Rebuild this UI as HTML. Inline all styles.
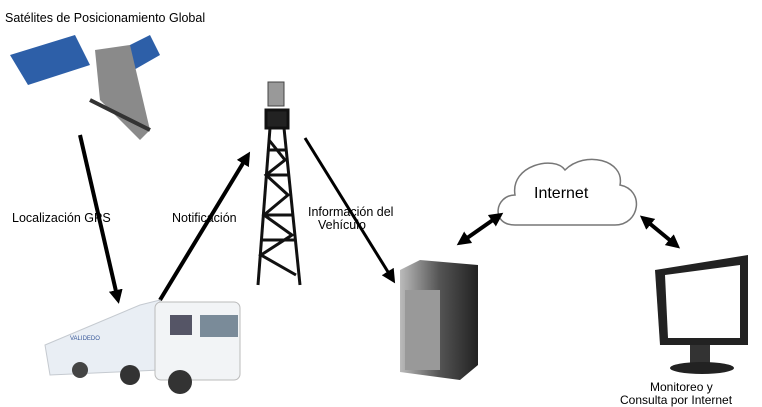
<!DOCTYPE html>
<html><head><meta charset="utf-8"><style>
body{margin:0;background:#fff;}
svg{display:block;font-family:"Liberation Sans",sans-serif;}
</style></head><body>
<svg width="762" height="407" viewBox="0 0 762 407">
<defs>
<marker id="a" markerWidth="8" markerHeight="8" refX="5" refY="4" orient="auto" markerUnits="userSpaceOnUse" viewBox="0 0 8 8"><path d="M0,0 L8,4 L0,8 z" fill="#000"/></marker>
<marker id="b" markerWidth="14" markerHeight="14" refX="10" refY="7" orient="auto" markerUnits="userSpaceOnUse" viewBox="0 0 14 14"><path d="M0,0 L14,7 L0,14 z" fill="#000"/></marker>
<marker id="c" markerWidth="14" markerHeight="14" refX="4" refY="7" orient="auto" markerUnits="userSpaceOnUse" viewBox="0 0 14 14"><path d="M14,0 L0,7 L14,14 z" fill="#000"/></marker>
<linearGradient id="sv" x1="0" x2="1"><stop offset="0" stop-color="#bbb"/><stop offset="0.5" stop-color="#555"/><stop offset="1" stop-color="#222"/></linearGradient>
</defs>
<text x="5" y="22" font-size="12.5">Satélites de Posicionamiento Global</text>
<!-- satellite -->
<polygon points="10,55 75,35 90,65 28,85" fill="#2d5fa8"/>
<polygon points="110,55 150,35 160,55 125,75" fill="#2d5fa8"/>
<polygon points="95,50 130,45 150,130 140,140 100,100" fill="#8a8a8a"/>
<line x1="90" y1="100" x2="150" y2="130" stroke="#333" stroke-width="4"/>
<!-- arrows -->
<line x1="80" y1="135" x2="118" y2="300" stroke="#000" stroke-width="4" marker-end="url(#b)"/>
<text x="12" y="222" font-size="12.5">Localización GPS</text>
<line x1="160" y1="300" x2="248" y2="155" stroke="#000" stroke-width="4" marker-end="url(#b)"/>
<text x="172" y="222" font-size="12.5">Notificación</text>
<line x1="305" y1="138" x2="393" y2="280" stroke="#000" stroke-width="3" marker-end="url(#b)"/>
<text x="308" y="216" font-size="12.5">Información del</text>
<text x="318" y="229" font-size="12.5">Vehículo</text>
<!-- tower -->
<g stroke="#111" stroke-width="3" fill="none">
<rect x="268" y="82" width="16" height="24" fill="#999" stroke="#444" stroke-width="1"/>
<rect x="266" y="110" width="22" height="18" fill="#222"/>
<line x1="270" y1="128" x2="258" y2="285"/><line x1="284" y1="128" x2="300" y2="285"/>
<path d="M269,140 L285,160 L266,175 L288,195 L264,215 L292,235 L261,255 L296,275 M268,150h18M266,175h22M264,215h28M262,240h32"/>
</g>
<!-- truck -->
<polygon points="45,345 140,305 160,300 160,370 50,375" fill="#e9eef4" stroke="#c5cad0"/>
<rect x="155" y="302" width="85" height="78" rx="6" fill="#f2f4f6" stroke="#bbb"/>
<rect x="200" y="315" width="38" height="22" fill="#7a8b99"/>
<rect x="170" y="315" width="22" height="20" fill="#556"/>
<circle cx="180" cy="382" r="12" fill="#333"/><circle cx="130" cy="375" r="10" fill="#333"/><circle cx="80" cy="370" r="8" fill="#444"/>
<text x="70" y="340" font-size="6" fill="#3a5a9a">VALIDEDO</text>
<!-- server -->
<polygon points="400,270 420,260 478,265 478,365 460,380 400,372" fill="url(#sv)"/>
<rect x="405" y="290" width="35" height="80" fill="#999"/>
<!-- cloud -->
<path d="M515,225 C490,225 495,195 515,195 C510,165 555,155 565,170 C585,150 625,160 620,185 C645,190 640,225 615,225 Z" fill="#fff" stroke="#777" stroke-width="1.5"/>
<text x="534" y="198" font-size="16">Internet</text>
<line x1="460" y1="243" x2="500" y2="215" stroke="#000" stroke-width="4" marker-start="url(#c)" marker-end="url(#b)"/>
<line x1="643" y1="218" x2="677" y2="246" stroke="#000" stroke-width="4" marker-start="url(#c)" marker-end="url(#b)"/>
<!-- monitor -->
<polygon points="655,270 748,255 748,345 660,345" fill="#222"/>
<polygon points="665,275 740,265 740,338 668,338" fill="#fff"/>
<rect x="690" y="345" width="20" height="18" fill="#333"/>
<ellipse cx="702" cy="368" rx="32" ry="6" fill="#222"/>
<text x="650" y="391" font-size="12">Monitoreo y</text>
<text x="620" y="404" font-size="12">Consulta por Internet</text>
</svg>
</body></html>
